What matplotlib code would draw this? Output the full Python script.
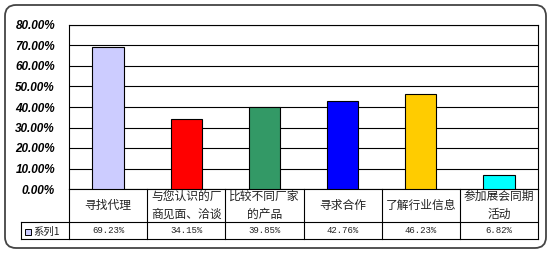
import matplotlib
matplotlib.use("Agg")
import matplotlib.pyplot as plt
from matplotlib.patches import FancyBboxPatch, Rectangle
from matplotlib.ticker import MultipleLocator, PercentFormatter

# chart data
categories = ["寻找代理", "与您认识的厂\n商见面、洽谈", "比较不同厂家\n的产品",
              "寻求合作", "了解行业信息", "参加展会同期\n活动"]
values = [69.23, 34.15, 39.85, 42.76, 46.23, 6.82]
bar_colors = ["#CCCCFF", "#FF0000", "#339966", "#0000FF", "#FFCC00", "#00FFFF"]
series_name = "系列1"

cjk = ["Noto Sans CJK SC", "DejaVu Sans"]
W, H = 550, 254
fig = plt.figure(figsize=(W / 100, H / 100), dpi=100)

# background axes in pixel units for the rounded frame
bg = fig.add_axes([0, 0, 1, 1], zorder=-1)
bg.set_xlim(0, W)
bg.set_ylim(H, 0)
bg.axis("off")
bg.add_patch(FancyBboxPatch((5, 5), 541, 243, boxstyle="round,pad=0,rounding_size=11",
                            fc="white", ec="#444444", lw=1.3))

# plot area: x 69..538, y 25..189 in pixels
left, right, top, bottom = 69, 538, 25, 189
ax = fig.add_axes([left / W, 1 - bottom / H, (right - left) / W, (bottom - top) / H])
n = len(categories)
x = list(range(n))
ax.bar(x, values, width=0.4, color=bar_colors, edgecolor="black", linewidth=0.8, zorder=3)
ax.set_xlim(-0.5, n - 0.5)
ax.set_ylim(0, 80)
ax.yaxis.set_major_locator(MultipleLocator(10))
ax.yaxis.set_major_formatter(PercentFormatter(decimals=2))
ax.grid(axis="y", color="black", lw=0.8, zorder=0)
ax.set_xticks([])
ax.tick_params(axis="y", length=0, pad=10)
for lab in ax.get_yticklabels():
    lab.set_fontfamily("Liberation Sans")
    lab.set_fontweight("bold")
    lab.set_fontstyle("italic")
    lab.set_fontsize(8.5)
for s in ax.spines.values():
    s.set_color("black")
    s.set_linewidth(0.8)

# data table under the plot
row1 = (bottom - 222) / (bottom - top)
row2 = (bottom - 239) / (bottom - top)
xleft = (21 - left) / (right - left)
lk = dict(color="black", lw=0.8, transform=ax.transAxes, clip_on=False)
ax.plot([0, 0], [0, row2], **lk)
ax.plot([1, 1], [0, row2], **lk)
for k in range(1, n):
    ax.plot([k / n, k / n], [0, row2], **lk)
ax.plot([xleft, 1], [row1, row1], **lk)
ax.plot([xleft, 1], [row2, row2], **lk)
ax.plot([xleft, xleft], [row1, row2], **lk)

for i, (cat, v) in enumerate(zip(categories, values)):
    xc = (i + 0.5) / n
    ax.text(xc, row1 / 2, cat, transform=ax.transAxes, ha="center", va="center",
            family=cjk, fontsize=8.5, linespacing=1.45, color="#222222")
    ax.text(xc, (row1 + row2) / 2, f"{v:.2f}%", transform=ax.transAxes,
            ha="center", va="center", family="Liberation Mono", fontsize=6.5, color="#222222")

# legend key in the first cell
bg.add_patch(Rectangle((25, 229), 6, 6, fc=bar_colors[0], ec="black", lw=0.7))
bg.text(33, 232, series_name, ha="left", va="center", family=cjk, fontsize=7.5, color="#222222")

fig.savefig("out.png", dpi=100)
